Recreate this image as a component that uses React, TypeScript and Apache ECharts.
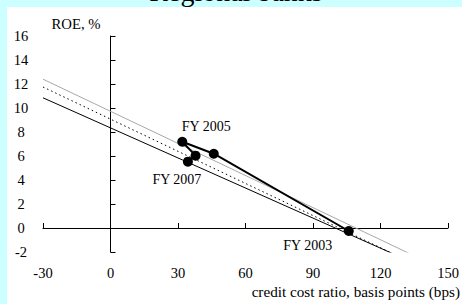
import React, { useEffect, useRef } from "react";
import * as echarts from "echarts";

const xTicks = [-30, 0, 30, 60, 90, 120, 150];
const yTicks = [-2, 0, 2, 4, 6, 8, 10, 12, 14, 16];

const fyLabels = ["FY 2003", "FY 2004", "FY 2005", "FY 2006", "FY 2007"];
const creditCost = [105.9, 45.9, 31.9, 37.8, 34.4];
const roe = [-0.25, 6.19, 7.19, 6.03, 5.53];
const shownLabels = ["FY 2003", "FY 2005", "FY 2007"];

const blackLine = [[-30, 10.85], [128, -2.35]];
const grayLine = [[-30, 12.4], [136.5, -2.45]];
const dottedLine = [[-30, 11.75], [124, -2.0]];

const labelOffsets: Record<string, number[]> = {
  "FY 2003": [-41, 14],
  "FY 2005": [24, -15],
  "FY 2007": [-11, 18],
};

const FONT = "'Liberation Serif', 'DejaVu Serif', serif";

export default function App() {
  const ref = useRef<HTMLDivElement>(null);
  useEffect(() => {
    if (!ref.current) return;
    const chart = echarts.init(ref.current, undefined, { renderer: "svg" });
    const pts = creditCost.map((x, i) => {
      const name = fyLabels[i];
      const show = shownLabels.includes(name);
      return {
        value: [x, roe[i]],
        name,
        label: show
          ? {
              show: true,
              position: "inside",
              formatter: name,
              offset: labelOffsets[name],
              color: "#000",
              fontFamily: FONT,
              fontSize: 14,
            }
          : { show: false },
      };
    });
    const axisCommon = {
      type: "value",
      splitLine: { show: false },
    };
    chart.setOption({
      animation: false,
      backgroundColor: "#ccffff",
      textStyle: { fontFamily: FONT },
      graphic: [
        {
          type: "text",
          x: 236,
          y: 5,
          style: {
            text: "Regional banks",
            fill: "#000",
            font: `28px ${FONT}`,
            textAlign: "center",
            textVerticalAlign: "bottom",
          },
        },
        {
          type: "rect",
          shape: { x: 7, y: 7, width: 455, height: 297 },
          style: { fill: "#ffffff" },
        },
        {
          type: "text",
          x: 76,
          y: 24,
          style: {
            text: "ROE, %",
            fill: "#000",
            font: `14.7px ${FONT}`,
            textAlign: "center",
            textVerticalAlign: "middle",
          },
        },
        {
          type: "text",
          x: 460,
          y: 291,
          style: {
            text: "credit cost ratio, basis points (bps)",
            fill: "#000",
            font: `15.2px ${FONT}`,
            textAlign: "right",
            textVerticalAlign: "middle",
          },
        },
      ],
      grid: { left: 43, right: 14, top: 36, bottom: 52 },
      xAxis: [
        {
          ...axisCommon,
          min: xTicks[0],
          max: xTicks[xTicks.length - 1],
          interval: 30,
          position: "bottom",
          axisLine: { show: false, onZero: false },
          axisTick: { show: false },
          axisLabel: { color: "#000", fontSize: 14.5, fontFamily: FONT, margin: 13 },
        },
        {
          ...axisCommon,
          min: xTicks[0],
          max: xTicks[xTicks.length - 1],
          interval: 30,
          position: "bottom",
          axisLine: { show: true, onZero: true, onZeroAxisIndex: 0, lineStyle: { color: "#000", width: 1 } },
          axisTick: { show: true, inside: true, length: 5, lineStyle: { color: "#000" } },
          axisLabel: { show: false },
        },
      ],
      yAxis: [
        {
          ...axisCommon,
          min: yTicks[0],
          max: yTicks[yTicks.length - 1],
          interval: 2,
          position: "left",
          axisLine: { show: false, onZero: false },
          axisTick: { show: false },
          axisLabel: { color: "#000", fontSize: 14.5, fontFamily: FONT, margin: 22, align: "center" },
        },
        {
          ...axisCommon,
          min: yTicks[0],
          max: yTicks[yTicks.length - 1],
          interval: 2,
          position: "left",
          axisLine: { show: true, onZero: true, onZeroAxisIndex: 0, lineStyle: { color: "#000", width: 1 } },
          axisTick: { show: true, inside: true, length: 5, lineStyle: { color: "#000" } },
          axisLabel: { show: false },
        },
      ],
      series: [
        {
          type: "line",
          data: grayLine,
          symbol: "none",
          lineStyle: { color: "#a8a8a8", width: 1 },
          z: 1,
        },
        {
          type: "line",
          data: dottedLine,
          symbol: "none",
          lineStyle: { color: "#000", width: 1, type: [1.5, 3] },
          z: 1,
        },
        {
          type: "line",
          data: blackLine,
          symbol: "none",
          lineStyle: { color: "#000", width: 1 },
          z: 1,
        },
        {
          type: "line",
          data: pts,
          symbol: "circle",
          symbolSize: 10,
          itemStyle: { color: "#000" },
          lineStyle: { color: "#000", width: 2 },
          z: 3,
        },
      ],
    });
    return () => chart.dispose();
  }, []);
  return (
    <div
      ref={ref}
      style={{ position: "fixed", left: 0, top: 0, width: 462, height: 304 }}
    />
  );
}
